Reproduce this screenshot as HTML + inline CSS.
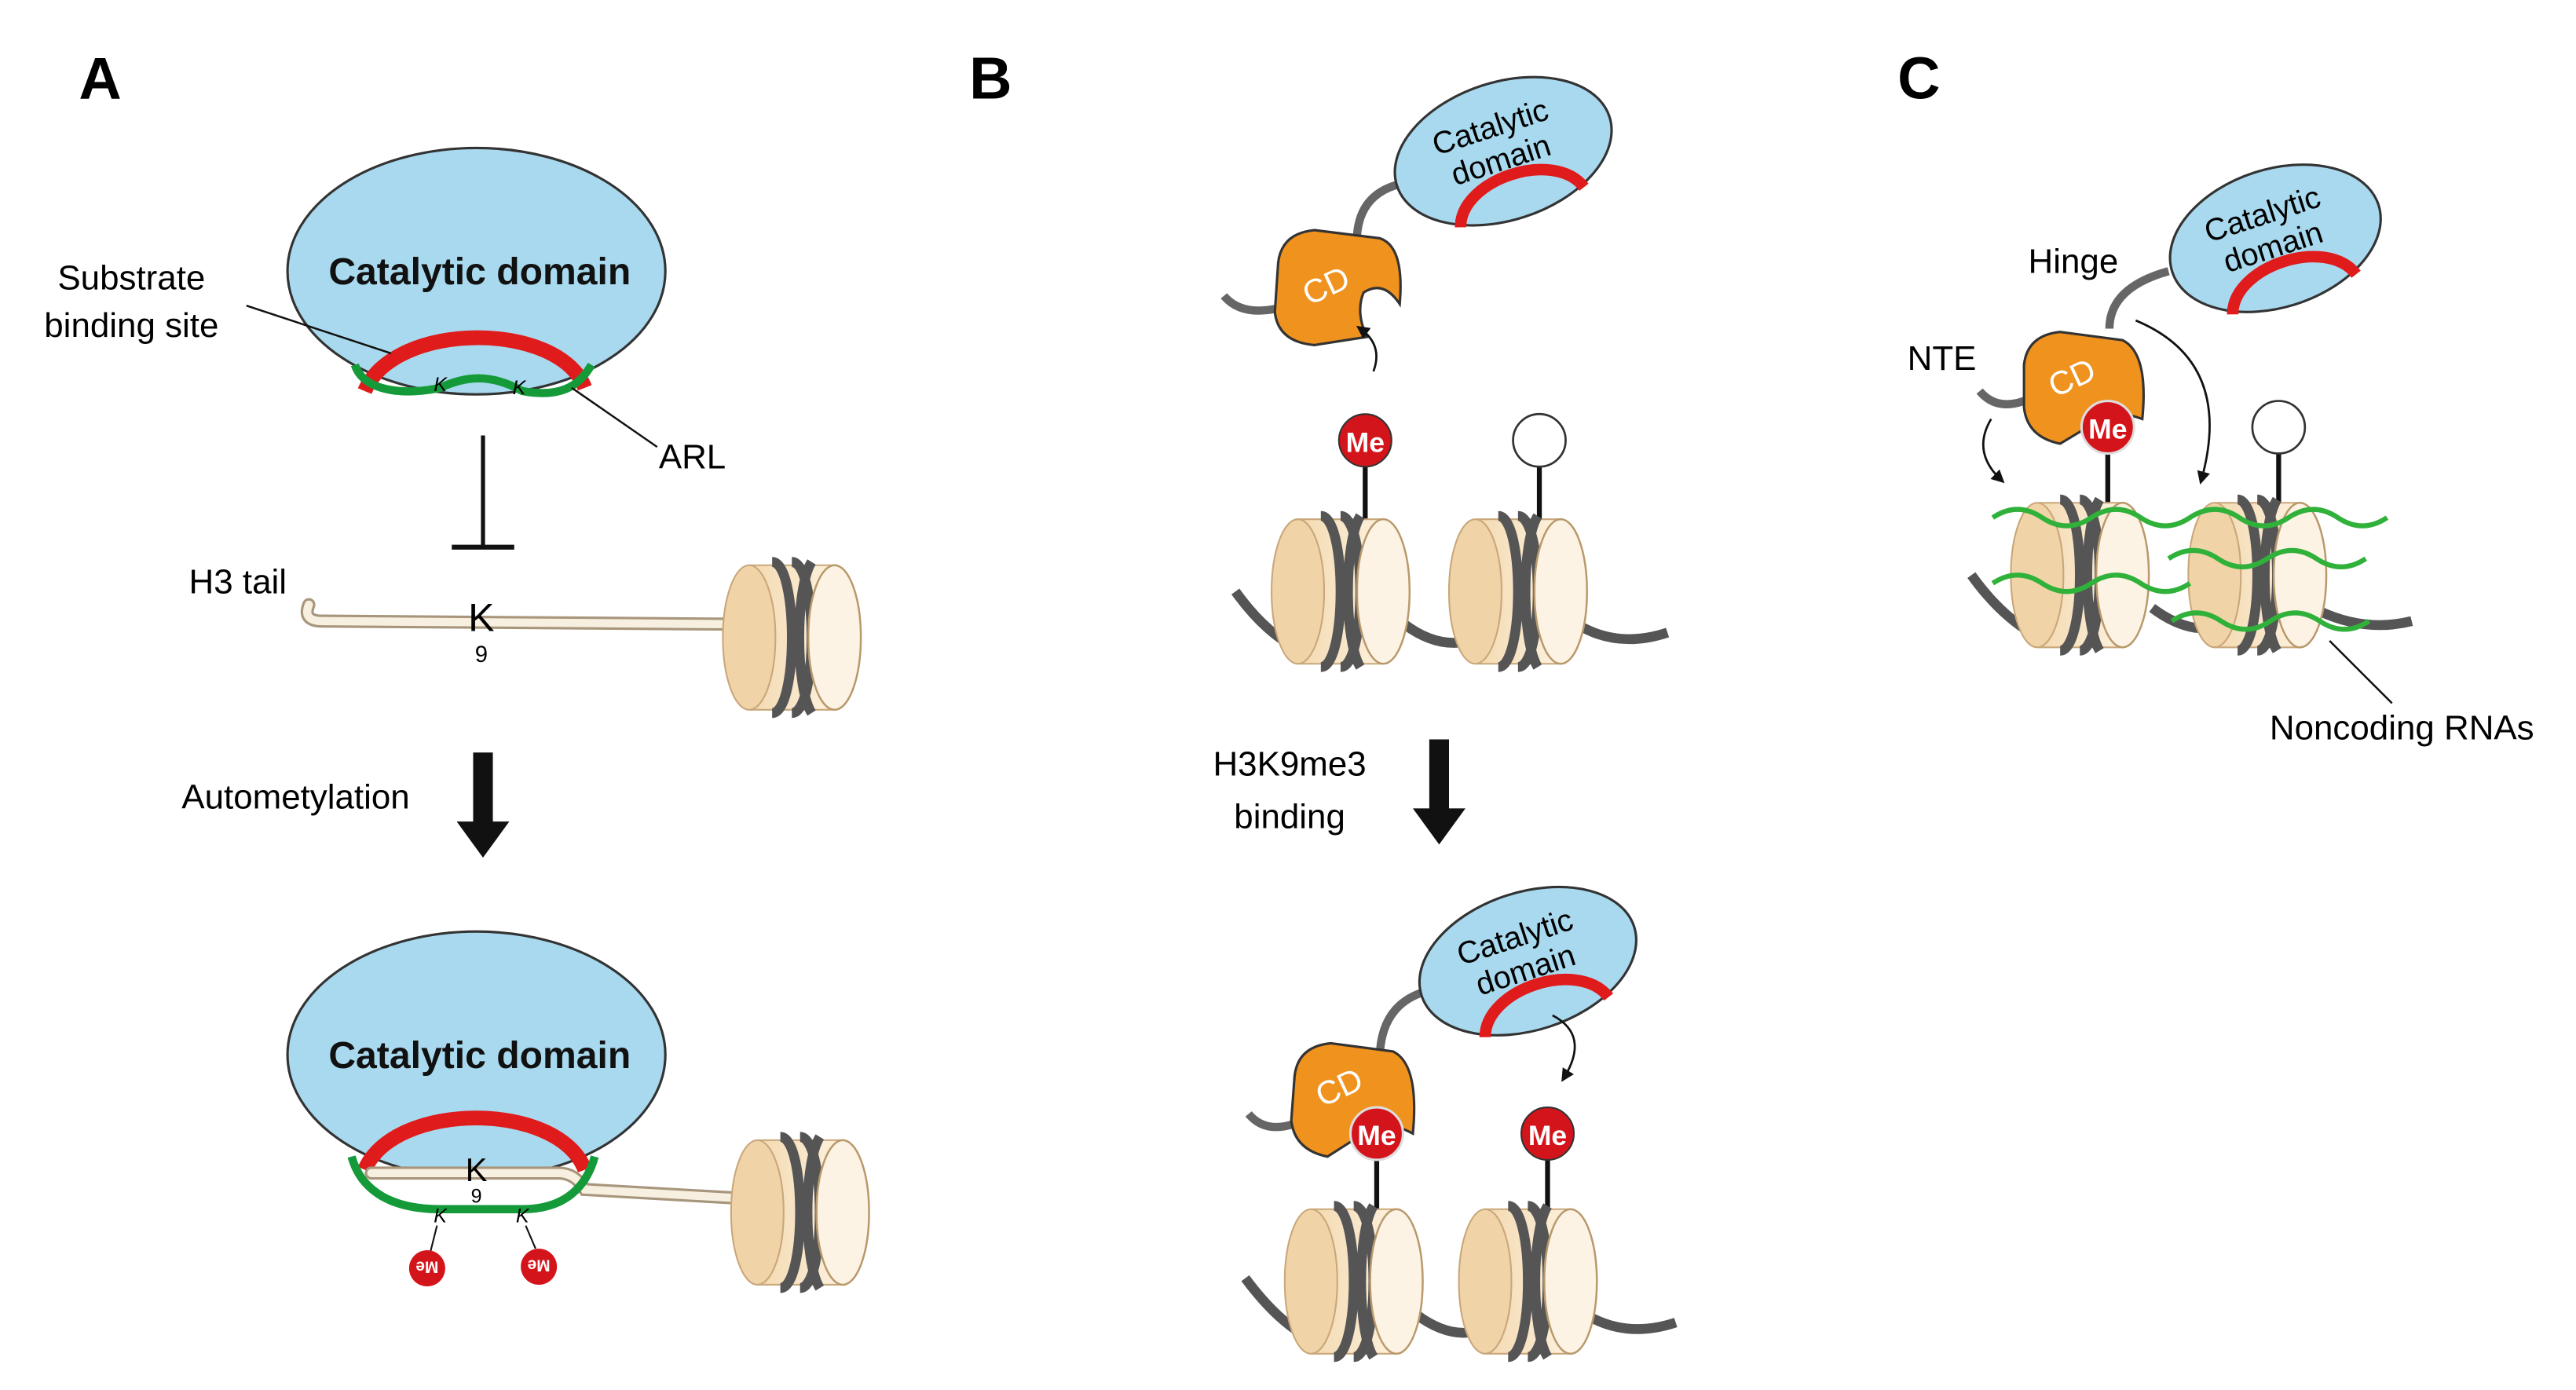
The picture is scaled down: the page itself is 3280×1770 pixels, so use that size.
<!DOCTYPE html>
<html><head><meta charset="utf-8"><style>
html,body{margin:0;padding:0;background:#fff;}
svg{display:block;}
text{font-family:"Liberation Sans",sans-serif;}
</style></head><body>
<svg width="3280" height="1770" viewBox="0 0 1568 846" xmlns="http://www.w3.org/2000/svg">
<defs>
<linearGradient id="cyl" x1="0" y1="0" x2="1" y2="0">
<stop offset="0" stop-color="#f3d9b0"/><stop offset="1" stop-color="#fdf1de"/></linearGradient>
<g id="nuc">
<rect x="-32" y="-44" width="52" height="88" fill="url(#cyl)"/>
<ellipse cx="-32" cy="0" rx="16" ry="44" fill="#f0d4a8" stroke="#c9a77a" stroke-width="1"/>
<line x1="-32" y1="-44" x2="20" y2="-44" stroke="#c9a77a" stroke-width="1"/>
<line x1="-32" y1="44" x2="20" y2="44" stroke="#c9a77a" stroke-width="1"/>
<path d="M-18,-46 C-2,-46 -2,46 -18,46" fill="none" stroke="#555" stroke-width="6"/>
<path d="M-6,-46 C10,-46 10,46 -6,46" fill="none" stroke="#555" stroke-width="6"/>
<ellipse cx="20" cy="0" rx="16" ry="44" fill="#fdf3e4" stroke="#b9996c" stroke-width="1.2"/>
<path d="M6,-46 C-4,-30 -4,30 6,46" fill="none" stroke="#555" stroke-width="6"/>
</g>
<marker id="ah" markerWidth="8" markerHeight="8" refX="5" refY="4" orient="auto" markerUnits="userSpaceOnUse"><path d="M0,0 L8,4 L0,8 Z" fill="#111"/></marker>
</defs>

<!-- Panel A -->
<text x="48" y="60" font-size="36" font-weight="bold">A</text>
<ellipse cx="290" cy="165" rx="115" ry="75" fill="#a9d9ee" stroke="#333" stroke-width="1.5"/>
<text x="292" y="173" font-size="23" text-anchor="middle" font-weight="bold" fill="#111">Catalytic domain</text>
<path d="M222,238 C240,195 340,195 356,236" fill="none" stroke="#e01b1b" stroke-width="9"/>
<path d="M216,222 C222,240 250,240 268,236 C285,228 300,228 318,238 C340,242 352,236 360,222" fill="none" stroke="#159a3a" stroke-width="5"/>
<text x="268" y="238" font-size="12" text-anchor="middle" font-style="italic">K</text>
<text x="316" y="240" font-size="12" text-anchor="middle" font-style="italic">K</text>
<text x="80" y="176" font-size="21" text-anchor="middle">Substrate</text>
<text x="80" y="205" font-size="21" text-anchor="middle">binding site</text>
<line x1="150" y1="186" x2="238" y2="215" stroke="#111" stroke-width="1.2"/>
<text x="401" y="285" font-size="21">ARL</text>
<line x1="348" y1="236" x2="400" y2="272" stroke="#111" stroke-width="1.2"/>
<line x1="294" y1="265" x2="294" y2="333" stroke="#111" stroke-width="2.5"/>
<line x1="275" y1="333" x2="313" y2="333" stroke="#111" stroke-width="3"/>
<text x="115" y="361" font-size="21">H3 tail</text>
<path d="M188,368 Q184,378 196,378 L462,380" fill="none" stroke="#a8967c" stroke-width="8" stroke-linecap="round"/>
<path d="M188,368 Q184,378 196,378 L462,380" fill="none" stroke="#f7efe0" stroke-width="5" stroke-linecap="round"/>
<use href="#nuc" x="488" y="388"/>
<text x="293" y="384" font-size="24" text-anchor="middle">K</text>
<text x="293" y="403" font-size="14" text-anchor="middle">9</text>
<text x="180" y="492" font-size="21" text-anchor="middle">Autometylation</text>
<path d="M288,458 L300,458 L300,500 L310,500 L294,522 L278,500 L288,500 Z" fill="#111"/>

<ellipse cx="290" cy="642" rx="115" ry="75" fill="#a9d9ee" stroke="#333" stroke-width="1.5"/>
<text x="292" y="650" font-size="23" text-anchor="middle" font-weight="bold" fill="#111">Catalytic domain</text>
<path d="M222,712 C240,670 340,670 356,712" fill="none" stroke="#e01b1b" stroke-width="9"/>
<path d="M226,714 L340,714 Q350,714 356,724 L462,730" fill="none" stroke="#a8967c" stroke-width="8" stroke-linecap="round"/>
<path d="M226,714 L340,714 Q350,714 356,724 L462,730" fill="none" stroke="#f7efe0" stroke-width="5" stroke-linecap="round"/>
<use href="#nuc" x="493" y="738"/>
<text x="290" y="719" font-size="20" text-anchor="middle">K</text>
<text x="290" y="732" font-size="12" text-anchor="middle">9</text>
<path d="M214,704 C220,726 240,736 268,736 L318,736 C340,736 356,726 362,704" fill="none" stroke="#159a3a" stroke-width="5"/>
<text x="268" y="744" font-size="12" text-anchor="middle" font-style="italic">K</text>
<text x="318" y="744" font-size="12" text-anchor="middle" font-style="italic">K</text>
<line x1="266" y1="746" x2="262" y2="762" stroke="#111" stroke-width="1"/>
<line x1="320" y1="746" x2="326" y2="760" stroke="#111" stroke-width="1"/>
<circle cx="260" cy="772" r="11" fill="#d4141b"/>
<text x="260" y="776" font-size="10" text-anchor="middle" fill="#fff" font-weight="bold" transform="rotate(180 260 772)">Me</text>
<circle cx="328" cy="771" r="11" fill="#d4141b"/>
<text x="328" y="775" font-size="10" text-anchor="middle" fill="#fff" font-weight="bold" transform="rotate(180 328 771)">Me</text>

<!-- Panel B -->
<text x="590" y="60" font-size="36" font-weight="bold">B</text>
<path d="M745,180 Q755,192 776,188" fill="none" stroke="#666" stroke-width="5"/>
<path d="M826,143 Q828,118 852,112" fill="none" stroke="#666" stroke-width="5"/>
<g transform="rotate(-18 915 92)">
<ellipse cx="915" cy="92" rx="68" ry="42" fill="#a9d9ee" stroke="#333" stroke-width="1.5"/>
<path d="M876,128 C885,100 945,100 955,128" fill="none" stroke="#e01b1b" stroke-width="7"/>
<text x="912" y="82" font-size="19" text-anchor="middle">Catalytic</text>
<text x="912" y="103" font-size="19" text-anchor="middle">domain</text>
</g>
<path d="M778,160 Q780,142 800,140 L840,145 Q855,150 852,185 Q842,170 830,178 Q825,190 832,205 L800,210 Q778,208 776,190 Z" fill="#f0921e" stroke="#333" stroke-width="1.5"/>
<text x="810" y="180" font-size="20" fill="#fff" text-anchor="middle" transform="rotate(-25 810 180)">CD</text>
<path d="M836,226 Q842,210 828,200" fill="none" stroke="#111" stroke-width="1.3" marker-end="url(#ah)"/>
<line x1="831" y1="283" x2="831" y2="318" stroke="#111" stroke-width="3"/>
<circle cx="831" cy="268" r="16" fill="#d4141b" stroke="#333" stroke-width="1"/>
<text x="831" y="275" font-size="17" fill="#fff" text-anchor="middle" font-weight="bold">Me</text>
<line x1="937" y1="283" x2="937" y2="318" stroke="#111" stroke-width="3"/>
<circle cx="937" cy="268" r="16" fill="#fff" stroke="#333" stroke-width="1.3"/>
<path d="M752,360 Q770,385 790,395 M855,380 Q875,395 895,390 M960,380 Q985,395 1015,385" fill="none" stroke="#555" stroke-width="6"/>
<use href="#nuc" x="822" y="360"/>
<use href="#nuc" x="930" y="360"/>
<text x="785" y="472" font-size="21" text-anchor="middle">H3K9me3</text>
<text x="785" y="504" font-size="21" text-anchor="middle">binding</text>
<path d="M870,450 L882,450 L882,492 L892,492 L876,514 L860,492 L870,492 Z" fill="#111"/>

<path d="M760,678 Q770,690 788,684" fill="none" stroke="#666" stroke-width="5"/>
<path d="M840,640 Q842,612 866,604" fill="none" stroke="#666" stroke-width="5"/>
<g transform="rotate(-18 930 585)">
<ellipse cx="930" cy="585" rx="68" ry="42" fill="#a9d9ee" stroke="#333" stroke-width="1.5"/>
<path d="M891,621 C900,593 960,593 970,621" fill="none" stroke="#e01b1b" stroke-width="7"/>
<text x="927" y="575" font-size="19" text-anchor="middle">Catalytic</text>
<text x="927" y="596" font-size="19" text-anchor="middle">domain</text>
</g>
<path d="M788,655 Q790,637 810,635 L848,640 Q864,648 860,690 Q842,680 830,690 L808,704 Q788,700 786,682 Z" fill="#f0921e" stroke="#333" stroke-width="1.5"/>
<text x="818" y="668" font-size="20" fill="#fff" text-anchor="middle" transform="rotate(-25 818 668)">CD</text>
<path d="M945,618 Q968,630 952,656" fill="none" stroke="#111" stroke-width="1.3" marker-end="url(#ah)"/>
<line x1="838" y1="705" x2="838" y2="740" stroke="#111" stroke-width="3"/>
<circle cx="838" cy="690" r="16" fill="#d4141b" stroke="#ddd" stroke-width="1.5"/>
<text x="838" y="697" font-size="17" fill="#fff" text-anchor="middle" font-weight="bold">Me</text>
<line x1="942" y1="705" x2="942" y2="740" stroke="#111" stroke-width="3"/>
<circle cx="942" cy="690" r="16" fill="#d4141b" stroke="#333" stroke-width="1"/>
<text x="942" y="697" font-size="17" fill="#fff" text-anchor="middle" font-weight="bold">Me</text>
<path d="M758,778 Q778,805 798,815 M862,800 Q882,815 900,810 M965,800 Q990,815 1020,805" fill="none" stroke="#555" stroke-width="6"/>
<use href="#nuc" x="830" y="780"/>
<use href="#nuc" x="936" y="780"/>

<!-- Panel C -->
<text x="1155" y="60" font-size="36" font-weight="bold">C</text>
<text x="1262" y="166" font-size="21" text-anchor="middle">Hinge</text>
<text x="1182" y="225" font-size="21" text-anchor="middle">NTE</text>
<path d="M1205,238 Q1215,250 1232,244" fill="none" stroke="#666" stroke-width="5"/>
<path d="M1284,200 Q1284,175 1320,165" fill="none" stroke="#666" stroke-width="5"/>
<g transform="rotate(-18 1385 145)">
<ellipse cx="1385" cy="145" rx="66" ry="42" fill="#a9d9ee" stroke="#333" stroke-width="1.5"/>
<path d="M1346,181 C1355,153 1415,153 1425,181" fill="none" stroke="#e01b1b" stroke-width="7"/>
<text x="1382" y="135" font-size="19" text-anchor="middle">Catalytic</text>
<text x="1382" y="156" font-size="19" text-anchor="middle">domain</text>
</g>
<path d="M1232,222 Q1234,204 1254,202 L1292,207 Q1308,215 1304,255 Q1286,248 1274,258 L1254,270 Q1234,266 1232,248 Z" fill="#f0921e" stroke="#333" stroke-width="1.5"/>
<text x="1264" y="236" font-size="20" fill="#fff" text-anchor="middle" transform="rotate(-25 1264 236)">CD</text>
<line x1="1283" y1="275" x2="1283" y2="310" stroke="#111" stroke-width="3"/>
<circle cx="1283" cy="260" r="16" fill="#d4141b" stroke="#ddd" stroke-width="1.5"/>
<text x="1283" y="267" font-size="17" fill="#fff" text-anchor="middle" font-weight="bold">Me</text>
<line x1="1387" y1="275" x2="1387" y2="310" stroke="#111" stroke-width="3"/>
<circle cx="1387" cy="260" r="16" fill="#fff" stroke="#333" stroke-width="1.3"/>
<path d="M1212,255 Q1200,275 1218,292" fill="none" stroke="#111" stroke-width="1.3" marker-end="url(#ah)"/>
<path d="M1300,195 Q1360,220 1340,292" fill="none" stroke="#111" stroke-width="1.3" marker-end="url(#ah)"/>
<path d="M1200,350 Q1220,378 1245,390 M1310,370 Q1330,385 1348,382 M1412,372 Q1440,385 1468,378" fill="none" stroke="#555" stroke-width="6"/>
<use href="#nuc" x="1272" y="350"/>
<use href="#nuc" x="1380" y="350"/>
<g fill="none" stroke="#2fb13a" stroke-width="3">
<path d="M1213,315 q15,-10 30,0 t30,0 t30,0 t30,0 t30,0 t30,0 t30,0 t30,0"/>
<path d="M1213,355 q15,-10 30,0 t30,0 t30,0 t30,0"/>
<path d="M1320,340 q15,-10 30,0 t30,0 t30,0 t30,0"/>
<path d="M1322,378 q15,-10 30,0 t30,0 t30,0 t30,0"/>
</g>
<line x1="1418" y1="390" x2="1456" y2="428" stroke="#111" stroke-width="1.2"/>
<text x="1462" y="450" font-size="21" text-anchor="middle">Noncoding RNAs</text>
</svg>
</body></html>
